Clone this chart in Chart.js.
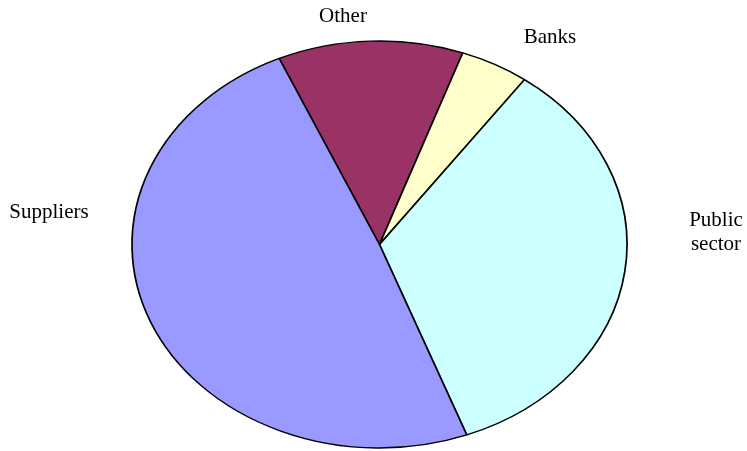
<!DOCTYPE html>
<html>
<head>
<meta charset="utf-8">
<script src="https://cdn.jsdelivr.net/npm/chart.js@4"></script>
<style>
  html, body { margin: 0; padding: 0; background: #fff; }
  #wrap { width: 747px; height: 451px; }
</style>
</head>
<body>
<div id="wrap"><canvas id="pie" width="747" height="451"></canvas></div>
<script>
// slice data, clockwise from the Other/Suppliers edge
const labels = ['Other', 'Banks', 'Public sector', 'Suppliers'];
const values = [12.1, 4.5, 34.3, 49.1];
const colors = ['#993366', '#FFFFCC', '#CCFFFF', '#9999FF'];

// pie is drawn as a circle and stretched into an ellipse
const stretchX = 247.5 / 203.5;

const ellipsePlugin = {
    id: 'ellipse',
    beforeDatasetsDraw(chart) {
        const { ctx, chartArea } = chart;
        const cx = (chartArea.left + chartArea.right) / 2;
        ctx.save();
        ctx.translate(cx, 0);
        ctx.scale(stretchX, 1);
        ctx.translate(-cx, 0);
    },
    afterDatasetsDraw(chart) {
        chart.ctx.restore();
    }
};

// outside labels, placed like the original
const labelSpots = [
    { lines: ['Other'], x: 343, y: 22 },
    { lines: ['Banks'], x: 550, y: 43 },
    { lines: ['Public', 'sector'], x: 716, y: 226 },
    { lines: ['Suppliers'], x: 49, y: 218 }
];

const labelPlugin = {
    id: 'sliceLabels',
    afterDraw(chart) {
        const ctx = chart.ctx;
        ctx.save();
        ctx.fillStyle = '#000';
        ctx.font = '21px "Liberation Serif", "Times New Roman", serif';
        ctx.textAlign = 'center';
        ctx.textBaseline = 'alphabetic';
        labelSpots.forEach(s => {
            s.lines.forEach((line, i) => ctx.fillText(line, s.x, s.y + i * 24));
        });
        ctx.restore();
    }
};

new Chart(document.getElementById('pie'), {
    type: 'pie',
    data: {
        labels: labels,
        datasets: [{
            data: values,
            backgroundColor: colors,
            borderColor: '#000',
            borderWidth: 1.4,
            borderAlign: 'center'
        }]
    },
    options: {
        responsive: false,
        animation: false,
        rotation: -23.9,
        radius: 203.5,
        layout: { padding: { left: 12, top: 38, right: 0, bottom: 0 } },
        plugins: { legend: { display: false }, tooltip: { enabled: false } }
    },
    plugins: [ellipsePlugin, labelPlugin]
});
</script>
</body>
</html>
